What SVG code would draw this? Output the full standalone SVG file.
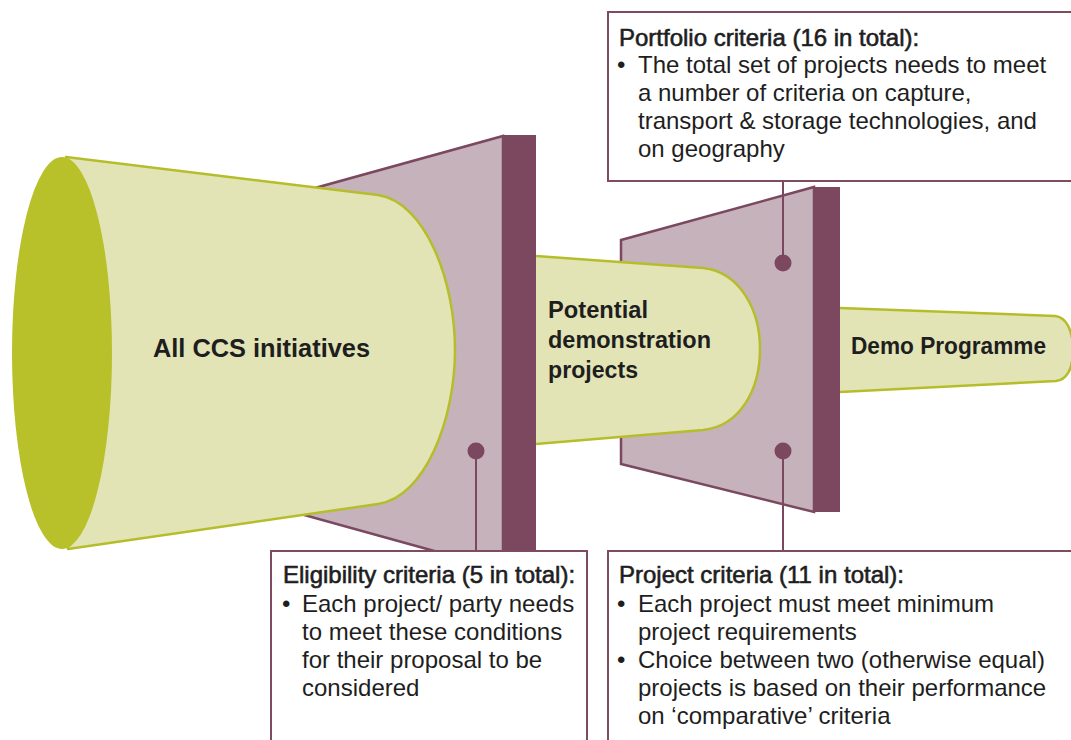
<svg xmlns="http://www.w3.org/2000/svg" width="1071" height="740" viewBox="0 0 1071 740">
<style>
.plate{fill:#c5b2ba;stroke:#7b4860;stroke-width:2.5;stroke-linejoin:miter}
.bar{fill:#7b4860}
.cyl{fill:#e2e4b6;stroke:#b5be2a;stroke-width:2.5;stroke-linejoin:round}
.lbl{font-family:"Liberation Sans",Arial,sans-serif;font-weight:bold;fill:#1e1e1e}
.box{fill:#ffffff;stroke:#7d4c63;stroke-width:2}
.con{stroke:#7b4860;stroke-width:2;fill:none}
.dot{fill:#7b4860}
.t{font-family:"Liberation Sans",Arial,sans-serif;font-size:24px;fill:#1e1e1e}
.ttl{stroke:#1e1e1e;stroke-width:0.6}
</style>
<rect width="1071" height="740" fill="#ffffff"/>
<g id="stage1">
<polygon class="plate" points="250,206 503,136 503,570 250,500"/>
<rect class="bar" x="503" y="135" width="33" height="436"/>
</g>
<g id="all-ccs">
<path class="cyl" d="M 66 157 L 378 195 C 425 202 455 280 455 350 C 455 420 425 497 378 504 L 68 549 Z"/>
<ellipse cx="62" cy="353" rx="50" ry="196" fill="#b8c12a"/>
<text class="lbl" x="153" y="357" font-size="26" textLength="217" lengthAdjust="spacingAndGlyphs">All CCS initiatives</text>
</g>
<g id="stage2">
<polygon class="plate" points="621,240 814,187 814,512 621,464"/>
<rect class="bar" x="814" y="187" width="26" height="325"/>
</g>
<g id="potential">
<path class="cyl" d="M 536 256 L 703 268 C 740 272 760 310 760 349 C 760 390 740 426 703 430 L 536 444"/>
<text class="lbl" x="548" y="318" font-size="23.5" textLength="100" lengthAdjust="spacingAndGlyphs">Potential</text>
<text class="lbl" x="548" y="348" font-size="23.5" textLength="163" lengthAdjust="spacingAndGlyphs">demonstration</text>
<text class="lbl" x="548" y="378" font-size="23.5" textLength="90" lengthAdjust="spacingAndGlyphs">projects</text>
</g>
<g id="demo">
<path class="cyl" d="M 840 308 L 1055 316 C 1066 317 1073 330 1073 350 C 1073 370 1066 380 1056 381 L 840 392"/>
<text class="lbl" x="851" y="354" font-size="23" textLength="195" lengthAdjust="spacingAndGlyphs">Demo Programme</text>
</g>
<g id="connectors">
<line class="con" x1="476" y1="451" x2="476" y2="552"/>
<circle class="dot" cx="476" cy="451" r="8.5"/>
<line class="con" x1="783" y1="181" x2="783" y2="263"/>
<circle class="dot" cx="783" cy="263" r="8.5"/>
<line class="con" x1="783" y1="451" x2="783" y2="552"/>
<circle class="dot" cx="783" cy="451" r="8.5"/>
</g>
<g id="portfolio">
<rect class="box" x="608" y="12" width="475" height="169"/>
<text class="t ttl" x="619" y="46">Portfolio criteria (16 in total):</text>
<text class="t" x="617" y="73">•</text>
<text class="t" x="638" y="73">The total set of projects needs to meet</text>
<text class="t" x="638" y="101">a number of criteria on capture,</text>
<text class="t" x="638" y="129">transport &amp; storage technologies, and</text>
<text class="t" x="638" y="157">on geography</text>
</g>
<g id="eligibility">
<rect class="box" x="271" y="551" width="316" height="200"/>
<text class="t ttl" x="283" y="583">Eligibility criteria (5 in total):</text>
<text class="t" x="282" y="612">•</text>
<text class="t" x="302" y="612">Each project/ party needs</text>
<text class="t" x="302" y="640">to meet these conditions</text>
<text class="t" x="302" y="668">for their proposal to be</text>
<text class="t" x="302" y="696">considered</text>
</g>
<g id="project">
<rect class="box" x="608" y="551" width="475" height="200"/>
<text class="t ttl" x="619" y="583">Project criteria (11 in total):</text>
<text class="t" x="617" y="612">•</text>
<text class="t" x="638" y="612">Each project must meet minimum</text>
<text class="t" x="638" y="640">project requirements</text>
<text class="t" x="617" y="668">•</text>
<text class="t" x="638" y="668">Choice between two (otherwise equal)</text>
<text class="t" x="638" y="696">projects is based on their performance</text>
<text class="t" x="638" y="724">on ‘comparative’ criteria</text>
</g>
</svg>
